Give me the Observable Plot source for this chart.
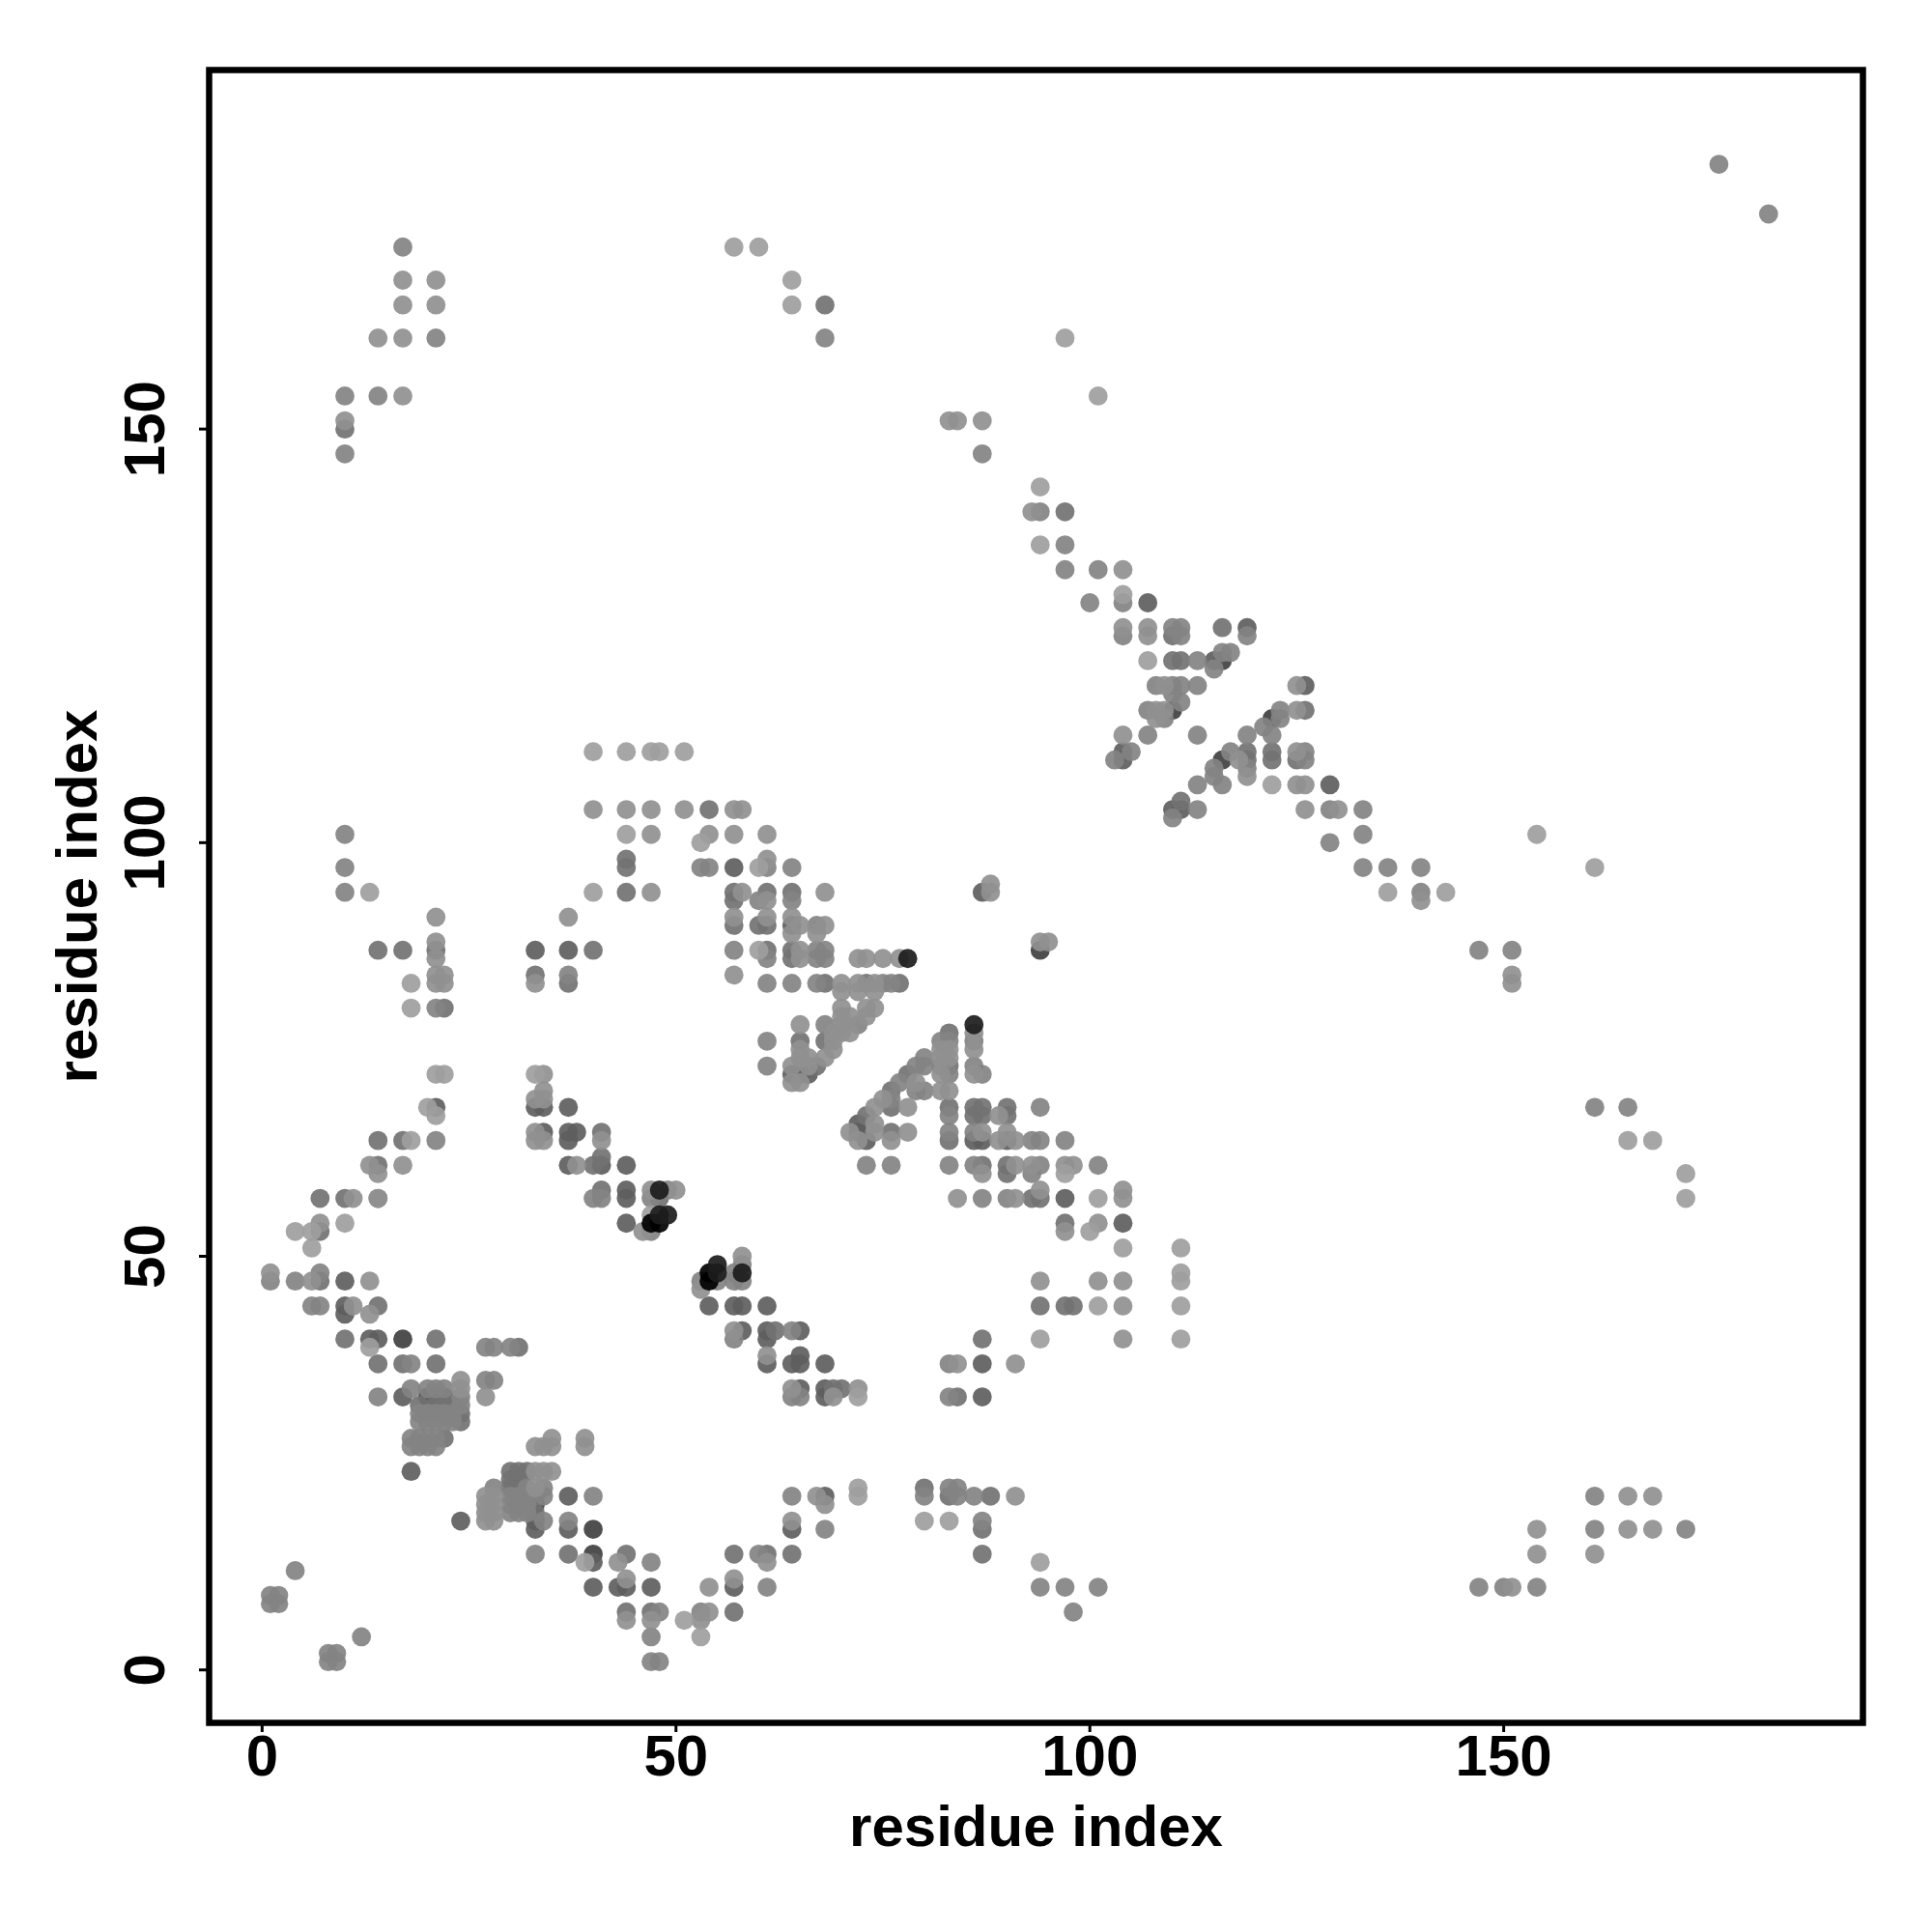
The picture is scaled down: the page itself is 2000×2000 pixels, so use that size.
<!DOCTYPE html>
<html>
<head>
<meta charset="utf-8">
<style>html,body{margin:0;padding:0;background:#fff}</style>
<script src="https://cdn.jsdelivr.net/npm/d3@7"></script>
<script src="https://cdn.jsdelivr.net/npm/@observablehq/plot@0.6"></script>
</head>
<body>
<script>
const tickValues = [0, 50, 100, 150];
const axisLabel = "residue index";
const shadeE = [[10,47],[10,44],[10,43],[13,40],[14,40],[17,33],[21,33],[22,33],[21,68],[33,68],[34,68],[37,68],[34,65],[37,65],[38,65],[37,64],[37,61],[41,61],[44,61],[44,58],[44,57],[44,54],[33,87],[37,87],[18,24],[24,18],[33,18],[33,17],[37,21],[37,17],[40,13],[40,10],[43,10],[44,10],[47,10],[57,10],[64,17],[68,21],[54,44],[57,44],[58,44],[61,44],[58,41],[61,41],[61,40],[65,41],[65,38],[64,37],[65,37],[61,37],[68,37],[65,34],[68,34],[68,33],[87,37],[87,33],[107,129],[129,107],[119,126],[115,122],[104,111],[104,110],[110,104],[111,104],[126,119],[87,94],[64,90],[64,72],[65,72],[66,72],[72,66],[72,65],[73,64],[86,64],[87,64],[90,64],[97,57],[104,54],[57,97]];
const shadeD = [[7,47],[7,53],[14,44],[10,40],[21,40],[31,39],[14,37],[17,37],[21,37],[24,31],[24,30],[14,87],[17,87],[21,87],[22,80],[33,84],[37,83],[40,87],[41,65],[41,62],[40,61],[41,58],[14,64],[17,64],[14,61],[10,57],[7,57],[44,98],[44,97],[44,94],[54,104],[57,94],[57,93],[57,90],[60,90],[61,90],[61,94],[64,94],[61,87],[64,87],[64,86],[68,83],[73,83],[77,83],[65,76],[68,76],[67,73],[78,72],[76,70],[76,68],[73,67],[76,65],[83,77],[83,73],[83,68],[83,64],[86,68],[87,68],[86,67],[87,67],[90,68],[90,67],[87,61],[90,61],[90,60],[93,57],[94,57],[97,54],[87,40],[84,33],[69,34],[70,34],[44,14],[37,14],[44,7],[47,7],[57,7],[61,14],[64,14],[87,17],[87,14],[88,21],[80,22],[83,21],[94,44],[97,44],[98,44],[116,126],[110,125],[110,122],[111,122],[111,105],[122,111],[122,110],[125,110],[119,111],[119,110],[126,116],[30,23],[31,23],[30,22],[31,22],[33,21],[33,19],[68,165],[10,150],[57,14],[30,24],[31,24],[32,24],[19,32],[21,32],[22,32],[23,32],[22,28],[97,140],[48,57],[62,41]];
const shadeC = [[1,47],[4,47],[7,48],[6,44],[7,44],[27,39],[28,39],[30,39],[18,37],[14,33],[18,34],[20,34],[21,34],[22,34],[24,33],[24,32],[27,35],[28,35],[19,31],[20,31],[21,31],[22,31],[23,31],[19,30],[20,30],[21,30],[22,30],[23,30],[19,28],[20,28],[21,28],[18,28],[18,27],[19,27],[20,27],[21,27],[28,22],[30,21],[31,21],[31,20],[32,22],[32,21],[32,20],[30,20],[30,19],[31,19],[32,19],[34,22],[34,21],[34,18],[37,18],[33,14],[40,21],[47,13],[4,12],[1,9],[2,9],[1,8],[2,8],[12,4],[8,2],[9,2],[8,1],[9,1],[47,4],[47,1],[48,1],[48,7],[53,7],[61,10],[60,14],[68,17],[64,21],[86,21],[83,22],[84,22],[80,21],[84,21],[87,18],[94,10],[97,10],[101,10],[98,7],[147,10],[150,10],[154,10],[161,21],[161,17],[172,17],[21,80],[21,64],[14,57],[41,57],[40,57],[57,47],[58,47],[57,40],[55,47],[53,47],[47,57],[47,53],[49,58],[57,48],[58,49],[64,41],[64,33],[65,33],[61,83],[64,83],[67,83],[76,83],[72,78],[68,78],[57,87],[67,87],[68,87],[67,86],[68,86],[67,90],[61,86],[60,93],[64,93],[64,97],[53,97],[54,97],[61,97],[82,76],[83,76],[82,73],[83,72],[80,74],[80,73],[79,73],[77,71],[80,70],[79,70],[76,69],[61,76],[61,73],[76,61],[73,61],[83,67],[83,65],[83,61],[86,65],[86,61],[93,64],[94,64],[97,64],[93,60],[94,61],[87,57],[90,57],[94,68],[101,61],[87,72],[86,73],[86,76],[75,83],[83,37],[83,33],[100,129],[104,129],[101,133],[97,133],[97,136],[94,140],[87,147],[10,154],[14,154],[21,161],[10,147],[17,172],[182,176],[176,182],[68,161],[104,125],[110,126],[111,126],[113,122],[110,119],[111,119],[108,119],[113,119],[110,118],[111,117],[107,116],[109,115],[113,113],[107,113],[103,110],[105,111],[111,125],[113,107],[113,104],[110,103],[115,121],[116,123],[117,123],[117,111],[119,125],[119,113],[119,109],[121,114],[122,113],[123,116],[123,115],[126,111],[126,110],[129,104],[133,104],[133,101],[129,100],[133,97],[136,97],[140,97],[140,94],[116,107],[115,109],[115,108],[161,68],[165,68],[147,87],[151,87],[37,84],[10,101],[10,97],[10,94]];
const shadeB = [[1,48],[6,47],[7,54],[13,47],[11,44],[13,43],[24,35],[24,34],[27,33],[27,21],[27,20],[27,19],[27,18],[28,21],[28,20],[28,19],[28,18],[33,27],[34,27],[35,28],[35,27],[33,24],[34,24],[35,24],[33,22],[39,28],[39,27],[43,13],[44,11],[47,6],[44,6],[21,91],[21,88],[21,86],[21,84],[22,84],[21,83],[22,83],[33,83],[34,72],[33,69],[34,70],[34,69],[33,65],[33,64],[34,64],[41,64],[13,61],[17,61],[14,60],[11,57],[14,57],[38,61],[37,91],[40,104],[44,104],[47,104],[47,101],[47,94],[54,101],[57,101],[61,101],[57,84],[53,46],[58,50],[57,41],[47,58],[50,58],[46,53],[61,38],[69,33],[64,34],[72,34],[84,37],[91,37],[94,47],[51,104],[57,104],[58,104],[61,98],[58,94],[61,93],[61,91],[57,91],[64,91],[65,90],[64,89],[67,89],[68,90],[65,87],[65,86],[68,94],[72,86],[73,86],[75,86],[77,86],[70,83],[72,83],[74,83],[70,82],[72,82],[74,82],[74,80],[73,80],[70,80],[70,79],[71,79],[70,78],[71,77],[70,77],[69,77],[69,76],[69,75],[68,74],[66,74],[65,74],[64,73],[66,73],[65,75],[65,71],[64,71],[65,78],[73,79],[75,69],[74,68],[74,66],[74,65],[71,65],[72,64],[78,68],[78,65],[76,64],[82,75],[83,75],[82,74],[83,74],[82,72],[82,70],[83,70],[79,71],[86,77],[86,75],[86,72],[87,65],[89,67],[90,65],[89,64],[91,64],[97,61],[98,61],[87,60],[91,61],[93,61],[84,57],[91,57],[94,58],[88,95],[88,94],[95,88],[94,88],[61,13],[57,11],[54,10],[54,7],[53,6],[64,18],[67,21],[68,20],[91,21],[165,21],[168,21],[165,17],[168,17],[154,17],[154,14],[161,14],[151,10],[104,58],[104,57],[97,53],[101,54],[101,47],[104,47],[104,44],[104,40],[17,168],[21,168],[17,165],[21,165],[14,161],[17,161],[17,154],[10,151],[83,151],[84,151],[87,151],[93,140],[104,133],[104,126],[107,126],[107,125],[109,119],[108,116],[109,116],[108,115],[104,113],[118,110],[119,108],[125,119],[125,116],[125,111],[125,107],[126,107],[126,104],[130,104],[140,93],[151,84],[151,83]];
const shadeA = [[4,53],[6,53],[6,51],[10,54],[13,94],[18,83],[18,80],[21,72],[22,72],[33,72],[20,68],[21,67],[18,64],[40,111],[44,111],[47,111],[48,111],[51,111],[40,94],[44,101],[53,100],[60,97],[60,87],[13,39],[39,13],[51,6],[53,4],[72,22],[72,21],[80,18],[83,18],[94,13],[47,55],[57,172],[60,172],[64,168],[64,165],[97,161],[101,154],[94,143],[94,136],[104,130],[107,122],[72,33],[94,40],[100,53],[104,51],[111,51],[111,48],[111,47],[111,44],[111,40],[101,44],[101,57],[97,60],[154,101],[161,97],[136,94],[143,94],[122,107],[165,64],[168,64],[172,60],[172,57]];
const shadeF = [[17,40],[40,17],[40,14],[116,122],[110,116],[122,115],[116,110],[94,87],[33,20],[20,33]];
const shadeK = [[78,86],[86,78],[48,58],[48,55],[49,55],[55,49],[55,48],[58,48]];
const shadeBlack = [[47,54],[48,54],[54,48],[54,47]];

const layers = [
  [shadeF, "#404040"], [shadeE, "#5e5e5e"], [shadeD, "#727272"], [shadeC, "#838383"],
  [shadeB, "#909090"], [shadeA, "#9e9e9e"], [shadeBlack, "#000000"], [shadeK, "#1c1c1c"]
];
const points = layers.flatMap(([list, shade]) => list.map(([x, y]) => ({x, y, shade})));

const chart = Plot.plot({
  width: 2000, height: 2000,
  marginLeft: 216, marginRight: 72, marginTop: 72, marginBottom: 217,
  x: {domain: [-6.4, 193.4], axis: null},
  y: {domain: [-6.4, 193.4], axis: null},
  color: {type: "identity"},
  style: {fontFamily: "'Liberation Sans', Arial, sans-serif", fontWeight: "bold", fontSize: "60px", background: "#fff", color: "#000"},
  marks: [
    Plot.dot(points, {x: "x", y: "y", fill: "shade", r: 9.9, fillOpacity: 0.92, stroke: null}),
    Plot.frame({stroke: "#000", strokeWidth: 6.5}),
    Plot.axisX({ticks: tickValues, tickSize: 10, tickPadding: 2, strokeWidth: 3, label: axisLabel, labelAnchor: "center", labelOffset: 127, labelArrow: "none", tickFormat: d => String(d)}),
    Plot.axisY({ticks: tickValues, tickSize: 10, tickPadding: 37, strokeWidth: 3, tickRotate: -90, label: axisLabel, labelAnchor: "center", labelOffset: 159, labelArrow: "none", tickFormat: d => String(d)})
  ]
});
document.body.appendChild(chart);
</script>
</body>
</html>
